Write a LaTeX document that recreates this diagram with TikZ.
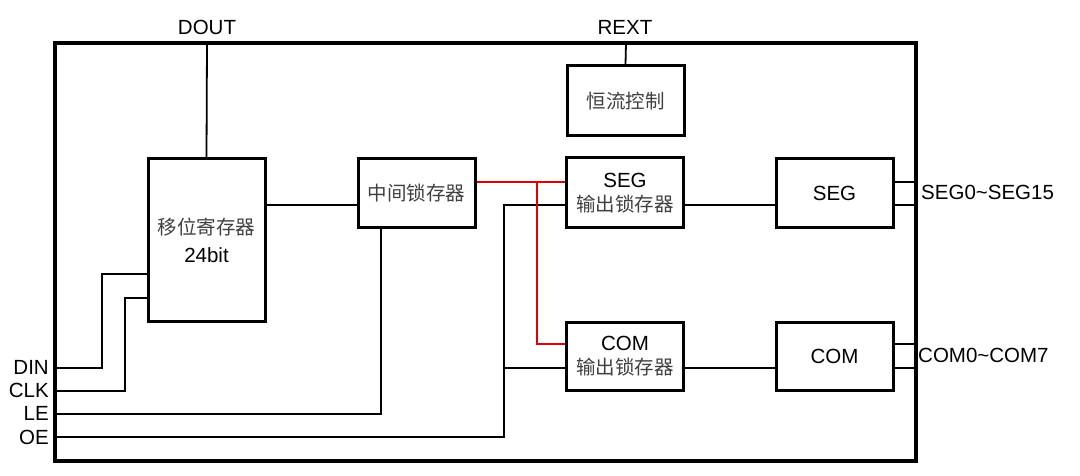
\documentclass[tikz,border=0pt]{standalone}
\usepackage{fontspec}
\setmainfont{Liberation Sans}
\newfontfamily\cjk{Noto Sans CJK SC}
\newcommand{\zhtxt}[1]{{\cjk\fontsize{19.5}{22}\selectfont\color{black!75}#1}}
\begin{document}
\begin{tikzpicture}[x=1pt,y=-1pt,
  blk/.style={draw=black,line width=3pt,rectangle,minimum width=117pt,inner sep=0pt,fill=white,align=center,font=\fontsize{20.5}{24}\selectfont},
  wire/.style={line width=1.8pt,black},
  rwire/.style={line width=1.8pt,red!90!black},
  lbl/.style={font=\fontsize{20.5}{24}\selectfont,inner sep=0pt}
]
\useasboundingbox (0,0) rectangle (1080,476);
% blocks
\node[blk,minimum height=162pt] (sr) at (206.5,240) {\zhtxt{移位寄存器}\\[4pt]24bit};
\node[blk,minimum height=69pt] (mid) at (416.5,193.5) {\zhtxt{中间锁存器}};
\node[blk,minimum height=70pt] (cc) at (625.5,101) {\zhtxt{恒流控制}};
\node[blk,minimum height=70pt] (segl) at (625,193) {SEG\\[0pt]\zhtxt{输出锁存器}};
\node[blk,minimum height=68pt] (coml) at (625,356) {COM\\[0pt]\zhtxt{输出锁存器}};
\node[blk,minimum height=69pt] (seg) at (834.5,193.5) {SEG};
\node[blk,minimum height=68pt] (com) at (834.5,356) {COM};
% helper coordinates
\coordinate (y182) at (0,182);
\coordinate (y205) at (0,205);
\coordinate (y274) at (0,274);
\coordinate (y298) at (0,298);
\coordinate (y344) at (0,344);
\coordinate (y368) at (0,368);
\coordinate (dout) at (207,43);
\coordinate (rext) at (626,43);
\coordinate (din) at (55,368);
\coordinate (clk) at (55,391);
\coordinate (le) at (55,414);
\coordinate (oe) at (55,437);
\coordinate (j1) at (537,182);
\coordinate (j2) at (537,344);
\coordinate (oex) at (504,437);
\coordinate (oey) at (504,205);
\coordinate (oec) at (504,368);
\coordinate (so1) at (916,182);
\coordinate (so2) at (916,205);
\coordinate (co1) at (916,344);
\coordinate (co2) at (916,368);
% wires
\draw[wire] (dout) -- (sr.north);
\draw[wire] (rext) -- (cc.north);
\draw[wire] (sr.east |- y205) -- (mid.west |- y205);
\draw[wire] (din) -- (102,368) -- (102,274) -- (sr.west |- y274);
\draw[wire] (clk) -- (125,391) -- (125,298) -- (sr.west |- y298);
\draw[wire] (le) -- (381,414) -- (mid.south -| 381,0);
\draw[wire] (oe) -- (oex) -- (oey) -- (segl.west |- y205);
\draw[wire] (oec) -- (coml.west |- y368);
\draw[rwire] (mid.east |- y182) -- (segl.west |- y182);
\draw[rwire] (j1) -- (j2) -- (coml.west |- y344);
\draw[wire] (segl.east |- y205) -- (seg.west |- y205);
\draw[wire] (coml.east |- y368) -- (com.west |- y368);
\draw[wire] (seg.east |- y182) -- (so1);
\draw[wire] (seg.east |- y205) -- (so2);
\draw[wire] (com.east |- y344) -- (co1);
\draw[wire] (com.east |- y368) -- (co2);
% frame
\node[draw=black,line width=3.2pt,minimum width=861pt,minimum height=418pt,inner sep=0pt] (chip) at (485.5,252) {};
% labels
\node[lbl] (tdout) at (207,27) {DOUT};
\node[lbl] (trext) at (625,27) {REXT};
\node[lbl,anchor=east] (tdin) at (49,367) {DIN};
\node[lbl,anchor=east] (tclk) at (49,390) {CLK};
\node[lbl,anchor=east] (tle) at (49,413) {LE};
\node[lbl,anchor=east] (toe) at (49,437) {OE};
\node[lbl,anchor=west] (tseg) at (921,192) {SEG0\textasciitilde SEG15};
\node[lbl,anchor=west] (tcom) at (918,355) {COM0\textasciitilde COM7};
\end{tikzpicture}
\end{document}
